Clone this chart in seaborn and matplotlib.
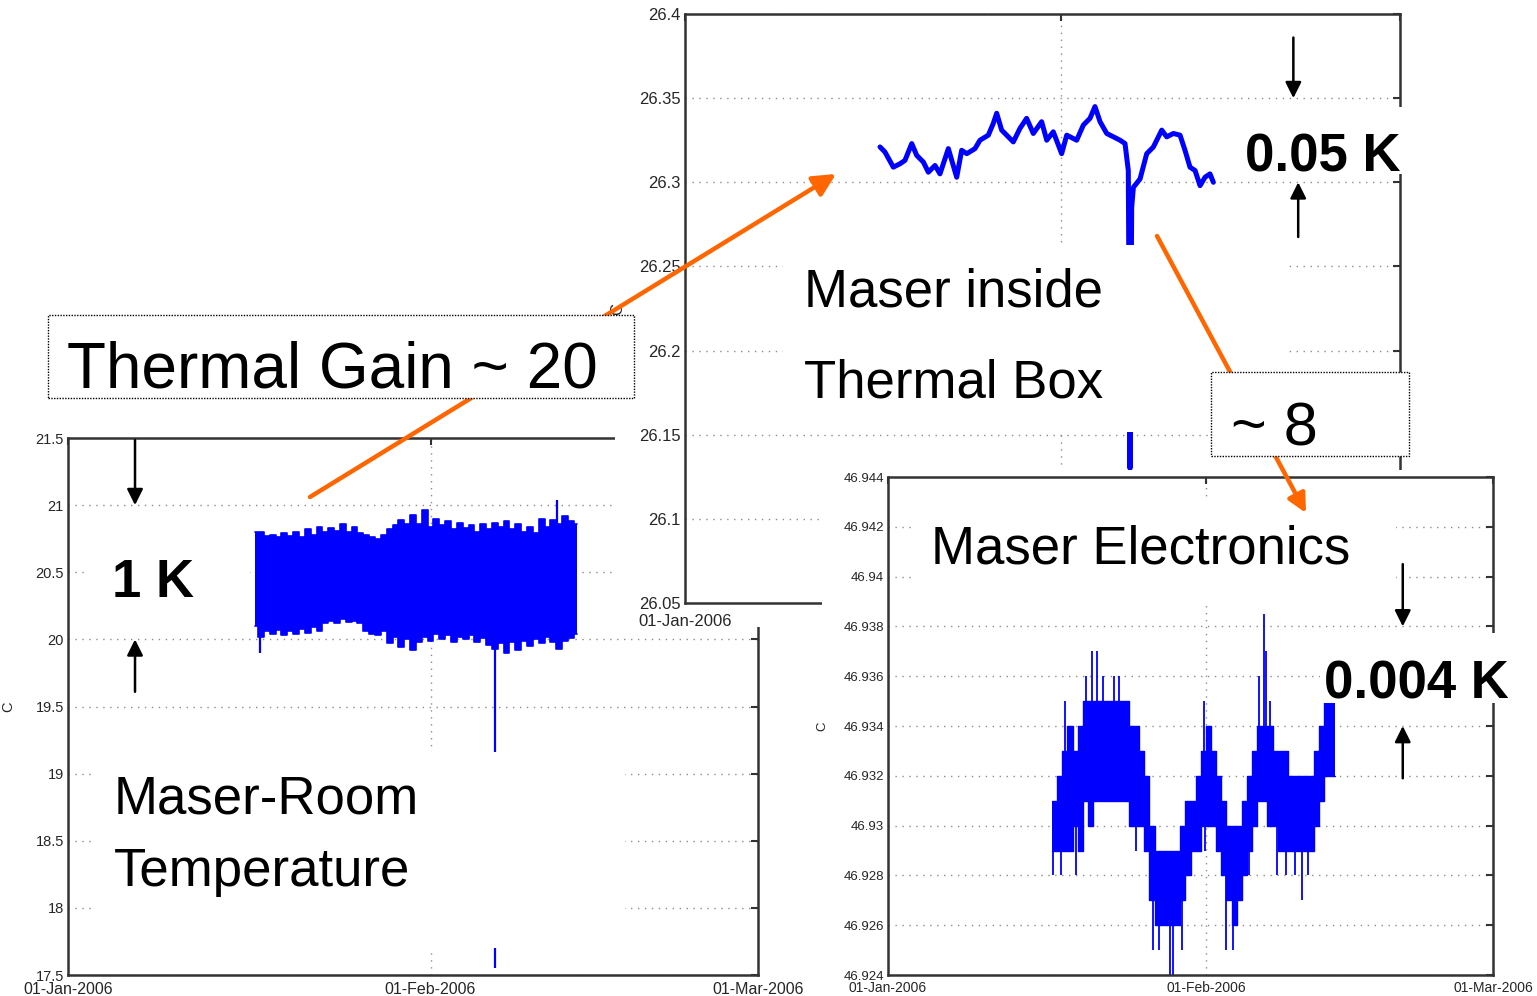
import numpy as np
import pandas as pd
import matplotlib
matplotlib.use("Agg")
import matplotlib.pyplot as plt
from matplotlib.patches import Rectangle, FancyArrowPatch
import seaborn as sns

# ---------------- data (day offsets from 01-Jan-2006) ----------------
date_ticks = [0, 31, 59]
date_labels = ["01-Jan-2006", "01-Feb-2006", "01-Mar-2006"]

# Maser-room temperature: envelope of the fast fluctuations
room_day = [16.0, 16.5, 17.0, 17.5, 18.0, 18.5, 19.0, 19.5, 20.0, 20.5, 21.0, 21.5,
            22.0, 22.5, 23.0, 23.5, 24.0, 24.5, 25.0, 25.5, 26.0, 26.5, 27.0, 27.5,
            28.0, 28.5, 29.0, 29.5, 30.0, 30.5, 31.0, 31.5, 32.0, 32.5, 33.0, 33.5,
            34.0, 34.5, 35.0, 35.5, 36.0, 36.5, 37.0, 37.5, 38.0, 38.5, 39.0, 39.5,
            40.0, 40.5, 41.0, 41.5, 42.0, 42.5, 43.0, 43.5]
room_upper = [20.80, 20.80, 20.77, 20.78, 20.76, 20.79, 20.77, 20.80, 20.76, 20.82, 20.78, 20.84,
              20.80, 20.83, 20.81, 20.86, 20.80, 20.84, 20.79, 20.78, 20.76, 20.75, 20.78, 20.82,
              20.85, 20.89, 20.86, 20.93, 20.86, 20.96, 20.84, 20.90, 20.85, 20.88, 20.82, 20.87,
              20.83, 20.85, 20.80, 20.86, 20.82, 20.87, 20.84, 20.88, 20.82, 20.86, 20.80, 20.84,
              20.79, 20.90, 20.84, 20.89, 20.86, 20.92, 20.88, 20.86]
room_lower = [20.10, 20.02, 20.06, 20.04, 20.07, 20.03, 20.06, 20.04, 20.08, 20.05, 20.09, 20.06,
              20.12, 20.14, 20.12, 20.15, 20.13, 20.14, 20.12, 20.06, 20.04, 20.03, 20.06, 19.97,
              20.02, 19.94, 20.00, 19.92, 19.98, 20.02, 19.99, 20.04, 20.00, 20.03, 19.98, 20.02,
              20.00, 20.03, 19.98, 20.01, 19.96, 19.93, 19.97, 19.90, 19.98, 19.92, 19.99, 19.95,
              20.00, 19.97, 20.02, 19.98, 19.93, 19.99, 20.01, 20.04]
room_spike_day = [16.4, 36.5, 41.8]
room_spike_val = [19.90, 17.55, 21.04]
room_yticks = [17.5, 18, 18.5, 19, 19.5, 20, 20.5, 21, 21.5]
room_ylabels = ["17.5", "18", "18.5", "19", "19.5", "20", "20.5", "21", "21.5"]

# Maser inside the thermal box
box_day = [16.09, 16.50, 17.19, 17.74, 18.15, 18.71, 19.12, 19.67, 20.08, 20.63, 21.04, 21.73,
           22.42, 22.83, 23.25, 23.93, 24.34, 25.03, 25.44, 25.72, 26.13, 26.68, 27.09, 27.64,
           28.19, 28.74, 29.43, 29.85, 30.39, 31.08, 31.50, 32.32, 32.87, 33.42, 33.83, 34.25,
           34.80, 35.35, 35.90, 36.31, 36.58, 36.72, 36.86, 37.00, 37.55, 38.10, 38.65, 39.34,
           39.75, 40.30, 40.85, 41.26, 41.67, 42.09, 42.50, 42.91, 43.32, 43.60]
box_temp = [26.321, 26.318, 26.309, 26.311, 26.313, 26.323, 26.316, 26.312, 26.306, 26.310, 26.305, 26.320,
            26.303, 26.319, 26.317, 26.320, 26.325, 26.328, 26.335, 26.341, 26.331, 26.327, 26.324, 26.332,
            26.338, 26.329, 26.336, 26.325, 26.330, 26.317, 26.328, 26.325, 26.334, 26.338, 26.345, 26.336,
            26.329, 26.327, 26.325, 26.323, 26.307, 26.130, 26.285, 26.297, 26.302, 26.317, 26.321, 26.331,
            26.327, 26.329, 26.328, 26.319, 26.309, 26.307, 26.298, 26.303, 26.305, 26.300]
box_yticks = [26.05, 26.1, 26.15, 26.2, 26.25, 26.3, 26.35, 26.4]
box_ylabels = ["26.05", "26.1", "26.15", "26.2", "26.25", "26.3", "26.35", "26.4"]

# Maser electronics: quantised readings, band limits per half day
elec_day = [16.0, 16.5, 17.0, 17.5, 18.0, 18.5, 19.0, 19.5, 20.0, 20.5, 21.0, 21.5,
            22.0, 22.5, 23.0, 23.5, 24.0, 24.5, 25.0, 25.5, 26.0, 26.5, 27.0, 27.5,
            28.0, 28.5, 29.0, 29.5, 30.0, 30.5, 31.0, 31.5, 32.0, 32.5, 33.0, 33.5,
            34.0, 34.5, 35.0, 35.5, 36.0, 36.5, 37.0, 37.5, 38.0, 38.5, 39.0, 39.5,
            40.0, 40.5, 41.0, 41.5, 42.0, 42.5, 43.0, 43.6]
elec_lo = [46.929, 46.929, 46.929, 46.929, 46.930, 46.929, 46.931, 46.930, 46.931, 46.931, 46.931, 46.931,
           46.931, 46.931, 46.931, 46.930, 46.930, 46.930, 46.929, 46.927, 46.926, 46.926, 46.926, 46.926,
           46.926, 46.927, 46.928, 46.929, 46.929, 46.930, 46.930, 46.930, 46.929, 46.928, 46.927, 46.926,
           46.927, 46.928, 46.929, 46.930, 46.931, 46.931, 46.930, 46.930, 46.929, 46.929, 46.929, 46.929,
           46.929, 46.929, 46.929, 46.930, 46.931, 46.932, 46.932, 46.932]
elec_hi = [46.931, 46.932, 46.933, 46.934, 46.933, 46.934, 46.935, 46.935, 46.935, 46.935, 46.935, 46.935,
           46.935, 46.935, 46.935, 46.934, 46.934, 46.933, 46.932, 46.930, 46.929, 46.929, 46.929, 46.929,
           46.929, 46.930, 46.931, 46.931, 46.932, 46.933, 46.934, 46.933, 46.932, 46.931, 46.930, 46.930,
           46.930, 46.931, 46.932, 46.933, 46.934, 46.934, 46.934, 46.933, 46.933, 46.933, 46.932, 46.932,
           46.932, 46.932, 46.932, 46.933, 46.934, 46.935, 46.935, 46.935]
elec_spike_day = [17.3, 19.3, 19.9, 20.4, 21.0, 22.0, 22.5, 30.8, 36.2, 36.67, 36.9, 37.3, 42.6,
                  16.1, 16.9, 18.3, 19.8, 24.2, 25.8, 26.4, 27.5, 27.8, 28.7, 30.9, 33.0, 33.6,
                  35.2, 37.9, 38.8, 39.7, 40.4, 41.0, 42.4]
elec_spike_val = [46.935, 46.936, 46.937, 46.937, 46.936, 46.936, 46.936, 46.935, 46.936, 46.9385, 46.937, 46.935, 46.936,
                  46.928, 46.928, 46.928, 46.930, 46.929, 46.925, 46.925, 46.924, 46.924, 46.925, 46.929, 46.925, 46.925,
                  46.928, 46.928, 46.928, 46.928, 46.927, 46.928, 46.931]
elec_yticks = [46.924, 46.926, 46.928, 46.930, 46.932, 46.934, 46.936, 46.938, 46.940, 46.942, 46.944]
elec_ylabels = ["46.924", "46.926", "46.928", "46.93", "46.932", "46.934", "46.936",
                "46.938", "46.94", "46.942", "46.944"]

# ---------------- style ----------------
sns.set_style("white")
plt.rcParams["font.family"] = ["Liberation Sans", "DejaVu Sans"]

BLUE = "#0000ff"
ORANGE = "#ff6600"
W, H = 1537, 996
fig = plt.figure(figsize=(W / 100, H / 100), dpi=100, facecolor="white")


def fpt(x, y):
    """pixel position (from top-left) -> figure fraction"""
    return x / W, 1 - y / H


def add_axes_px(l, t, r, b, z):
    ax = fig.add_axes([l / W, 1 - b / H, (r - l) / W, (b - t) / H])
    ax.set_zorder(z)
    ax.set_facecolor("white")
    return ax


def white_rect(x0, y0, x1, y1, z, dotted=False):
    r = Rectangle(fpt(x0, y1), (x1 - x0) / W, (y1 - y0) / H, transform=fig.transFigure,
                  facecolor="white", edgecolor="black" if dotted else "none",
                  linestyle=(0, (1, 1)) if dotted else "-", linewidth=1.0, zorder=z)
    fig.add_artist(r)


def style(ax, yticks, ylabels, ylim, fs_y, fs_x, lab_x, xpad):
    ax.set_xlim(0, 59)
    ax.set_ylim(*ylim)
    ax.set_yticks(yticks)
    ax.set_yticklabels(ylabels, fontsize=fs_y, color="#262626")
    ax.set_xticks(date_ticks)
    ax.set_xticklabels(date_labels, fontsize=fs_x, color="#262626")
    ax.tick_params(axis="both", direction="in", length=5, width=1.5, top=True, right=True,
                   pad=3, color="#333333")
    ax.tick_params(axis="x", pad=xpad)
    ax.set_axisbelow(True)
    ax.grid(True, linestyle=(0, (1, 4)), color="#8c8c8c", linewidth=1.0)
    for s in ax.spines.values():
        s.set_visible(True)
        s.set_color("#333333")
        s.set_linewidth(1.8)
    ax.set_xlabel("")
    ax.set_ylabel("C", fontsize=fs_y, color="#262626")
    ax.yaxis.set_label_coords(lab_x, 0.5)


def arrow(ax, x, y_from, y_to):
    ax.annotate("", xy=(x, y_to), xytext=(x, y_from),
                arrowprops=dict(arrowstyle="-|>", color="black", lw=1.8,
                                mutation_scale=24, shrinkA=0, shrinkB=0))


# ---------------- room temperature ----------------
ax_room = add_axes_px(68, 438, 758, 975, 1)
room = pd.DataFrame({"day": room_day, "upper": room_upper, "lower": room_lower})
ax_room.fill_between(room["day"], room["lower"], room["upper"], step="mid", color=BLUE, lw=0)
sns.lineplot(data=room, x="day", y="upper", ax=ax_room, color=BLUE, lw=1.2, drawstyle="steps-mid")
sns.lineplot(data=room, x="day", y="lower", ax=ax_room, color=BLUE, lw=1.2, drawstyle="steps-mid")
room_mid = (np.interp(room_spike_day, room_day, room_upper) +
            np.interp(room_spike_day, room_day, room_lower)) / 2
ax_room.vlines(room_spike_day, room_mid, room_spike_val, color=BLUE, lw=1.6)
style(ax_room, room_yticks, room_ylabels, (17.5, 21.5), 10.5, 11.5, -0.077, 5)
arrow(ax_room, 5.73, 21.485, 21.0)
arrow(ax_room, 5.73, 19.61, 20.0)

# ---------------- thermal box ----------------
white_rect(615, 0, 1537, 627, 2)
ax_box = add_axes_px(685, 14, 1400, 603, 3)
box = pd.DataFrame({"day": box_day, "temp": box_temp})
sns.lineplot(data=box, x="day", y="temp", ax=ax_box, color=BLUE, lw=3.6)
style(ax_box, box_yticks, box_ylabels, (26.05, 26.4), 12, 12, -0.084, 8)
arrow(ax_box, 50.2, 26.386, 26.350)
arrow(ax_box, 50.6, 26.2675, 26.300)

# ---------------- electronics ----------------
white_rect(822, 470, 1537, 996, 4)
ax_el = add_axes_px(888, 477, 1493, 975, 5)
el = pd.DataFrame({"day": elec_day, "lo": elec_lo, "hi": elec_hi})
ax_el.fill_between(el["day"], el["lo"], el["hi"], step="post", color=BLUE, lw=0)
sns.lineplot(data=el, x="day", y="hi", ax=ax_el, color=BLUE, lw=1.0, drawstyle="steps-post")
sns.lineplot(data=el, x="day", y="lo", ax=ax_el, color=BLUE, lw=1.0, drawstyle="steps-post")
el_mid = (np.interp(elec_spike_day, elec_day, elec_lo) +
          np.interp(elec_spike_day, elec_day, elec_hi)) / 2
ax_el.vlines(elec_spike_day, el_mid, elec_spike_val, color=BLUE, lw=1.3)
style(ax_el, elec_yticks, elec_ylabels, (46.924, 46.944), 9.5, 10, -0.099, 4)
arrow(ax_el, 50.2, 46.9405, 46.938)
arrow(ax_el, 50.2, 46.9319, 46.934)

# ---------------- labels ----------------
white_rect(88, 545, 250, 602, 6)
white_rect(92, 752, 625, 948, 6)
white_rect(783, 245, 1285, 432, 6)
white_rect(912, 500, 1396, 605, 6)
white_rect(1240, 107, 1405, 174, 6)
white_rect(1320, 633, 1515, 703, 6)


def label(x, y, s, size, weight="normal", z=7):
    fig.text(*fpt(x, y), s, fontsize=size, fontweight=weight, ha="left", va="baseline",
             color="black", zorder=z)


label(112, 597, "1 K", 38, "bold")
label(1245, 171, "0.05 K", 38, "bold")
label(1324, 698, "0.004 K", 38, "bold")
label(114, 813, "Maser-Room", 38)
label(114, 886, "Temperature", 38)
label(804, 306, "Maser inside", 38)
label(804, 397, "Thermal Box", 38)
label(931, 563, "Maser Electronics", 38)

# gain arrows
for (x0, y0), (x1, y1), ms in [((310, 497), (836, 174), 34), ((1157, 236), (1306, 513), 28)]:
    fig.add_artist(FancyArrowPatch(fpt(x0, y0), fpt(x1, y1), transform=fig.transFigure,
                                   arrowstyle="-|>", mutation_scale=ms, color=ORANGE,
                                   lw=3.2, shrinkA=0, shrinkB=0, zorder=8))

white_rect(48, 315, 634, 398, 9, dotted=True)
white_rect(1211, 372, 1409, 456, 9, dotted=True)
label(67, 388, "Thermal Gain ~ 20", 46, z=10)
label(1231, 445, "~ 8", 44, z=10)

fig.savefig("out.png", dpi=100, facecolor="white")
